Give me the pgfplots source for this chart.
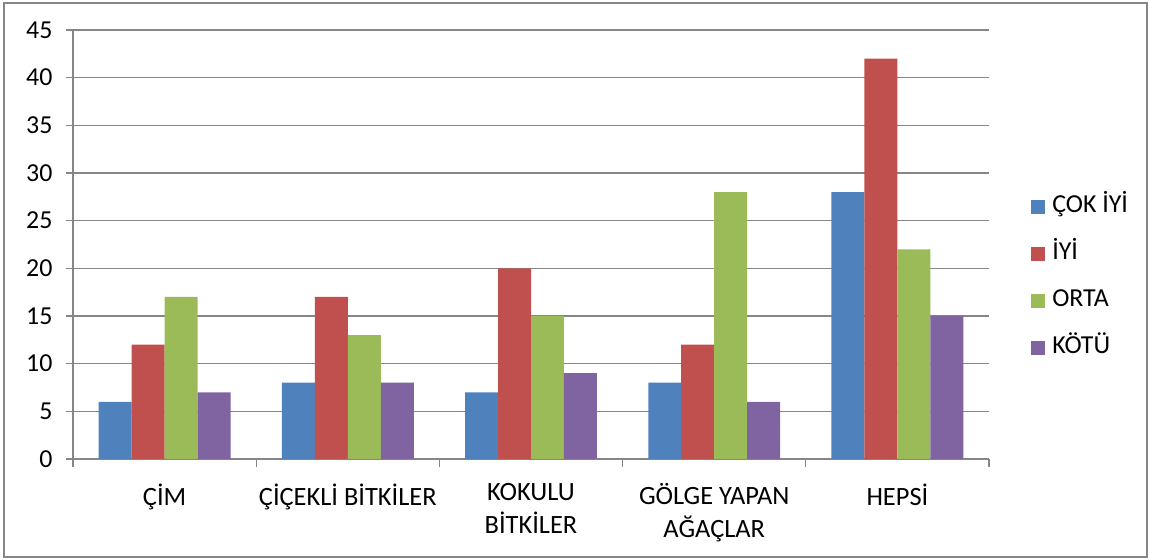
\documentclass[border=0pt]{standalone}
\usepackage{fontspec}
\setmainfont{Carlito}
\usepackage{pgfplots}
\pgfplotsset{compat=1.18}

\definecolor{cBlue}{HTML}{4F81BD}
\definecolor{cRed}{HTML}{C0504D}
\definecolor{cGreen}{HTML}{9BBB59}
\definecolor{cPurple}{HTML}{8064A2}
\definecolor{lineGray}{HTML}{868686}

\pgfplotsset{
  sqlegend/.style={legend image code/.code={\fill[##1] (0bp,-7bp) rectangle (14bp,7bp);}},
}

\begin{document}
\begin{tikzpicture}[x=1bp,y=1bp]
\path[use as bounding box] (0,0) rectangle (1150,560);
\draw[lineGray, line width=1.2bp] (4,3) rectangle (1147,557);
\begin{axis}[
  at={(73bp,101bp)}, anchor=south west,
  width=916bp, height=429bp, scale only axis,
  ybar=0pt, bar width=0.18,
  xmin=-0.5, xmax=4.5, ymin=0, ymax=45,
  xtick={0,...,4},
  xticklabels={ÇİM, ÇİÇEKLİ BİTKİLER, KOKULU\\BİTKİLER, GÖLGE YAPAN\\AĞAÇLAR, HEPSİ},
  minor xtick={-0.5,0.5,...,4.5},
  ytick={0,5,...,45},
  yticklabels={0,5,10,15,20,25,30,35,40,45},
  axis x line*=bottom, axis y line*=left,
  axis line style={draw=lineGray, line width=1.2bp, -},
  ymajorgrids, major grid style={draw=lineGray, line width=1.2bp},
  tick align=outside,
  major tick length=7bp, minor tick length=8bp,
  major x tick style={draw=none},
  every tick/.style={draw=lineGray, line width=1.2bp},
  minor tick style={draw=lineGray, line width=1.2bp},
  yticklabel style={font=\fontsize{26}{30}\selectfont, anchor=east, xshift=-10bp},
  xticklabel style={font=\fontsize{26.5}{33}\selectfont, align=center, anchor=north, yshift=-14bp},
  legend style={at={(1.0459,0.424)}, anchor=west, draw=none, fill=none, inner sep=0pt,
    row sep=27bp, font=\fontsize{26}{30}\selectfont,
    nodes={inner sep=0pt, text height=16bp, text depth=4bp},
    /tikz/every odd column/.append style={column sep=7bp}},
  legend cell align=left,
]
\addplot[fill=cBlue, draw=none, sqlegend] coordinates {(0,6) (1,8) (2,7) (3,8) (4,28)};
\addplot[fill=cRed, draw=none, sqlegend] coordinates {(0,12) (1,17) (2,20) (3,12) (4,42)};
\addplot[fill=cGreen, draw=none, sqlegend] coordinates {(0,17) (1,13) (2,15) (3,28) (4,22)};
\addplot[fill=cPurple, draw=none, sqlegend] coordinates {(0,7) (1,8) (2,9) (3,6) (4,15)};
\legend{ÇOK İYİ, İYİ, ORTA, KÖTÜ}
\end{axis}
\end{tikzpicture}
\end{document}
